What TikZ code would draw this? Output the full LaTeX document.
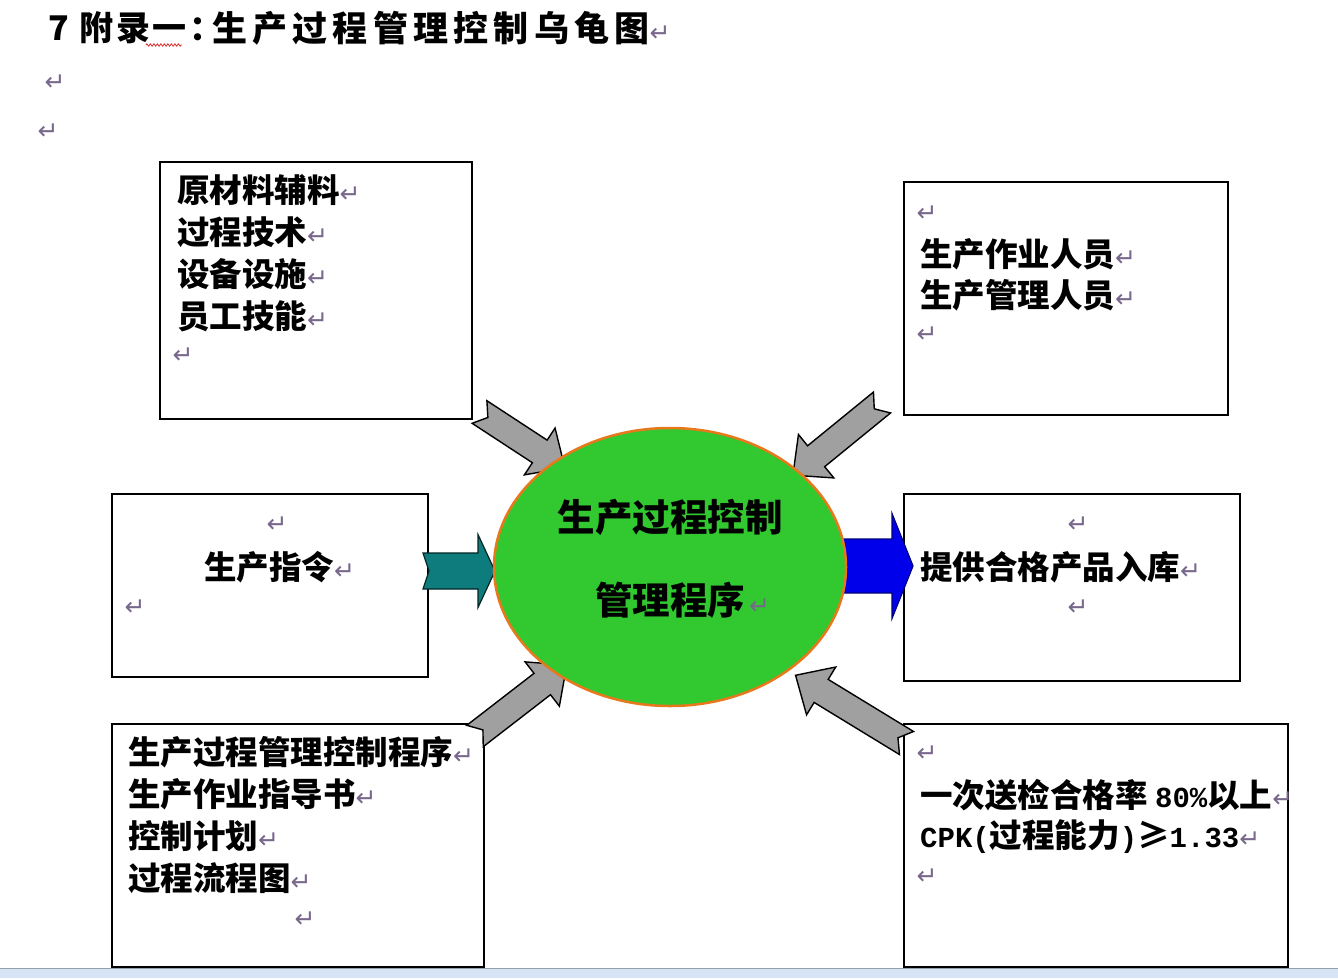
\documentclass[tikz,border=0pt]{standalone}
\usepackage{fontspec}
\usepackage{xcolor}
\usepackage{tikz}
\usetikzlibrary{shapes.geometric, decorations.pathmorphing}
\setmainfont{Noto Sans CJK SC}
\newfontfamily\markfont{DejaVu Sans}
\newfontfamily\latinmono{Liberation Mono}

\definecolor{coregreen}{RGB}{50,200,48}
\definecolor{coreorange}{RGB}{232,120,28}
\definecolor{arrowgray}{RGB}{160,160,160}
\definecolor{inteal}{RGB}{14,124,124}
\definecolor{outblue}{RGB}{0,0,235}
\definecolor{markgray}{RGB}{120,104,140}
\definecolor{barblue}{RGB}{214,228,246}
\definecolor{spellred}{RGB}{220,40,40}

\newcommand{\pmark}{{\mdseries\markfont\color{markgray}\fontsize{25}{25}\selectfont ↵}}
\newcommand{\kpinum}[1]{{\latinmono\bfseries\fontsize{29}{42}\selectfont #1}}

\tikzset{
  box/.style={draw=black, line width=1.6pt, fill=white, inner sep=0pt, anchor=north west},
  txtline/.style={inner sep=0pt, anchor=west, font=\fontsize{32.5}{42}\selectfont\bfseries},
  titletxt/.style={inner sep=0pt, anchor=west, font=\fontsize{34}{34}\selectfont\bfseries\addfontfeatures{LetterSpace=8}},
  pmk/.style={inner sep=0pt},
  core/.style={ellipse, draw=coreorange, line width=2.5pt, fill=coregreen,
    minimum width=352pt, minimum height=278pt, inner sep=0pt},
  coretxt/.style={inner sep=0pt, align=center, font=\fontsize{37.5}{83}\selectfont\bfseries},
  grayarrow/.style={draw=black, line width=1.4pt, fill=arrowgray},
  tealarrow/.style={draw=black!70!inteal, line width=1.2pt, fill=inteal},
  bluearrow/.style={draw=blue!50!black, line width=1.2pt, fill=outblue},
  pics/notcharrow/.style args={#1/#2/#3/#4/#5/#6}{code={
    \draw[#6] (0,#2) -- ({#1-#4},#2) -- ({#1-#4},#3) -- (#1,0)
      -- ({#1-#4},-#3) -- ({#1-#4},-#2) -- (0,-#2) -- (#5,0) -- cycle;
  }}
}

\begin{document}
\begin{tikzpicture}[x=1pt, y=-1pt]
    \fill[white] (0,0) rectangle (1338,978);
    \useasboundingbox (0,0) rectangle (1338,978);
    \fill[barblue] (0,968) rectangle (1338,978);
    \draw[black!30!barblue, line width=1pt] (0,968) -- (1338,968);

    \node[titletxt] (title-a) at (48,28) {7 附录一：};
    \node[titletxt, font=\fontsize{35}{35}\selectfont\bfseries\addfontfeatures{LetterSpace=15}]
      (title-b) at (212,28) {生产过程管理控制乌龟图\pmark};
    \draw[spellred, line width=0.8pt, decorate, decoration={zigzag, segment length=3.5pt, amplitude=1.2pt}]
      (146,45) -- (182,45);
    \node[pmk] (m-a) at (55,83) {\pmark};
    \node[pmk] (m-b) at (48,132) {\pmark};

    \node[box, minimum width=312pt, minimum height=257pt] (res) at (159,161) {};
    \node[box, minimum width=324pt, minimum height=233pt] (staff) at (903,181) {};
    \node[box, minimum width=316pt, minimum height=183pt] (order) at (111,493) {};
    \node[box, minimum width=336pt, minimum height=187pt] (output) at (903,493) {};
    \node[box, minimum width=372pt, minimum height=243pt] (docs) at (111,723) {};
    \node[box, minimum width=384pt, minimum height=243pt] (kpi) at (903,723) {};

    \coordinate (res-in) at (479.5,412);
    \coordinate (staff-in) at (882,402.5);
    \coordinate (docs-in) at (475,736);
    \coordinate (kpi-in) at (906.5,743);
    \coordinate (order-in) at (423,571);
    \coordinate (core-out) at (835,566);
    \pic[rotate=-33.2] at (res-in) {notcharrow=102/13.5/28/30/10/grayarrow};
    \pic[rotate=-140.8] at (staff-in) {notcharrow=115/13.5/28/30/10/grayarrow};
    \pic[rotate=37.7] at (docs-in) {notcharrow=116/13.5/28/31/10/grayarrow};
    \pic[rotate=148.6] at (kpi-in) {notcharrow=130/13.5/28/30/10/grayarrow};
    \pic at (order-in) {notcharrow=72/18/36.5/17/6/tealarrow};
    \pic at (core-out) {notcharrow=78/27/52.5/21/0/bluearrow};

    \node[core] (core) at (670,567) {};
    \node[coretxt] (core-txt) at (670,558.5) {生产过程控制\\管理程序\rlap{\hspace{4pt}\pmark}};

    \foreach \txt [count=\i] in {原材料辅料, 过程技术, 设备设施, 员工技能}
      \node[txtline] (res-\i) at (177,148+42*\i) {\txt\pmark};
    \node[pmk] (m-res) at (183,356) {\pmark};

    \node[pmk] (m-staff-a) at (927,214) {\pmark};
    \node[txtline] (staff-1) at (920,254) {生产作业人员\pmark};
    \node[txtline] (staff-2) at (920,295) {生产管理人员\pmark};
    \node[pmk] (m-staff-b) at (927,335) {\pmark};

    \node[pmk] (m-order-a) at (277,525) {\pmark};
    \node[txtline, anchor=center] (order-1) at (269,567) {生产指令\rlap{\pmark}};
    \node[pmk] (m-order-b) at (135,608) {\pmark};

    \node[pmk] (m-output-a) at (1078,525) {\pmark};
    \node[txtline] (output-1) at (920,567) {提供合格产品入库\pmark};
    \node[pmk] (m-output-b) at (1078,608) {\pmark};

    \foreach \txt [count=\i] in {生产过程管理控制程序, 生产作业指导书, 控制计划, 过程流程图}
      \node[txtline] (docs-\i) at (128,710+42*\i) {\txt\pmark};
    \node[pmk] (m-docs) at (305,920) {\pmark};

    \node[pmk] (m-kpi-a) at (927,754) {\pmark};
    \node[txtline] (kpi-1) at (920,795) {一次送检合格率 \kpinum{80\%}以上\pmark};
    \node[txtline] (kpi-2) at (920,837) {\kpinum{CPK(}过程能力\kpinum{)}≥\kpinum{1.33}\pmark};
    \node[pmk] (m-kpi-b) at (927,877) {\pmark};
\end{tikzpicture}
\end{document}
